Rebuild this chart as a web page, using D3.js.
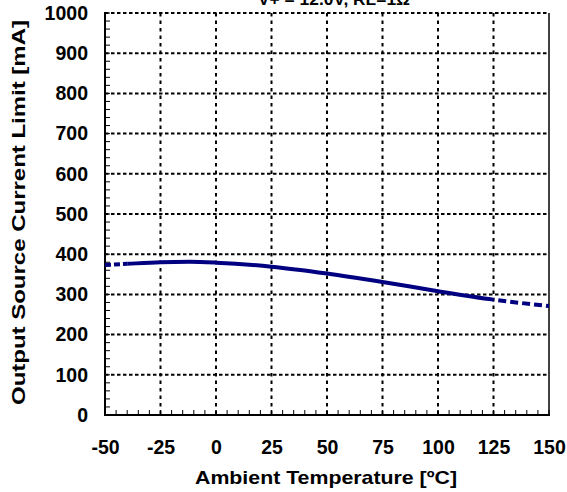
<!DOCTYPE html>
<html><head><meta charset="utf-8">
<script src="https://cdn.jsdelivr.net/npm/d3@7"></script>
<style>body{margin:0;background:#fff}svg{display:block}text{font-family:Arial,"Liberation Sans",sans-serif;font-weight:bold;fill:#000}</style>
</head><body><svg id="c" width="567" height="492"></svg>
<script>
const temps = [-50,-40,-25,-12,0,25,50,75,100,125,150];
const currents = [373,376,380,381,379,369,352,331,308,287,271];
const xTicks = [-50,-25,0,25,50,75,100,125,150];
const yTicks = [0,100,200,300,400,500,600,700,800,900,1000];
const solidRange = [-40,125];
const titleText = "V+ = 12.0V, RL=1Ω";
const xTitle = "Ambient Temperature [ºC]";
const yTitle = "Output Source Current  Limit [mA]";

const svg = d3.select("#c");
const L=105,R=549,T=13,B=415;
const x = d3.scaleLinear().domain([-50,150]).range([L,R]);
const y = d3.scaleLinear().domain([0,1000]).range([B,T]);
const FF = "Arial, 'Liberation Sans', sans-serif";

// title (clipped at top, as in the reference)
svg.append("text").attr("x",334).attr("y",5).attr("text-anchor","middle").attr("font-size",17)
 .attr("textLength",152).attr("lengthAdjust","spacingAndGlyphs").text(titleText);

// grid
const g = svg.append("g");
g.selectAll(".hg").data(yTicks.filter(v=>v>0)).enter().append("line")
 .attr("x1",L).attr("x2",R).attr("y1",d=>y(d)).attr("y2",d=>y(d))
 .attr("stroke","#000").attr("stroke-width",2).attr("stroke-dasharray","3.5,2.5");
g.selectAll(".vg").data(xTicks.filter(v=>v>-50&&v<150)).enter().append("line")
 .attr("y1",T).attr("y2",B).attr("x1",d=>x(d)).attr("x2",d=>x(d))
 .attr("stroke","#000").attr("stroke-width",2).attr("stroke-dasharray","3.5,4");

// minor ticks
const xMinor = d3.range(-50,151,5);
g.selectAll(".xm").data(xMinor).enter().append("line")
 .attr("x1",d=>x(d)).attr("x2",d=>x(d)).attr("y1",B).attr("y2",B-5).attr("stroke","#000").attr("stroke-width",1);
const yMinor = d3.range(0,1001,20);
g.selectAll(".ym").data(yMinor).enter().append("line")
 .attr("y1",d=>y(d)).attr("y2",d=>y(d)).attr("x1",L).attr("x2",L+5).attr("stroke","#000").attr("stroke-width",1);

// border
svg.append("line").attr("x1",R).attr("x2",R).attr("y1",T).attr("y2",B).attr("stroke","#000").attr("stroke-width",1.5);
svg.append("line").attr("x1",L).attr("x2",L).attr("y1",T-1).attr("y2",B+1).attr("stroke","#000").attr("stroke-width",2);
svg.append("line").attr("x1",L-1).attr("x2",R+1).attr("y1",B).attr("y2",B).attr("stroke","#000").attr("stroke-width",2);

// axes labels via d3 axes
const xAxis = svg.append("g").attr("transform",`translate(0,${B})`)
 .call(d3.axisBottom(x).tickValues(xTicks).tickSize(0).tickPadding(25).tickFormat(d=>String(d)));
xAxis.select(".domain").remove();
xAxis.selectAll("text").attr("font-size",19.5).style("font-family",FF).style("font-weight","bold");
const yAxis = svg.append("g").attr("transform",`translate(${L},0)`)
 .call(d3.axisLeft(y).tickValues(yTicks).tickSize(0).tickPadding(17).tickFormat(d=>String(d)));
yAxis.select(".domain").remove();
yAxis.selectAll("text").attr("font-size",19.5).style("font-family",FF).style("font-weight","bold");

svg.append("text").attr("x",326).attr("y",484).attr("text-anchor","middle").attr("font-size",19)
 .attr("textLength",262).attr("lengthAdjust","spacingAndGlyphs").text(xTitle);
svg.append("text").attr("transform","translate(25,212.5) rotate(-90)").attr("text-anchor","middle").attr("font-size",19)
 .attr("textLength",385).attr("lengthAdjust","spacingAndGlyphs").text(yTitle);

// curve
const defs = svg.append("defs");
const clips = [
 {id:"c1",a:-50,b:solidRange[0],dash:"6,3"},
 {id:"c2",a:solidRange[0],b:solidRange[1],dash:null},
 {id:"c3",a:solidRange[1],b:150,dash:"8,4"}
];
clips.forEach(c=>{
 defs.append("clipPath").attr("id",c.id).append("rect")
  .attr("x",x(c.a)).attr("width",x(c.b)-x(c.a)).attr("y",0).attr("height",492);
});
const line = d3.line().x((d,i)=>x(temps[i])).y(d=>y(d)).curve(d3.curveMonotoneX);
clips.forEach(c=>{
 const p = svg.append("path").datum(currents).attr("d",line).attr("fill","none")
  .attr("stroke","#000080").attr("stroke-width",4).attr("clip-path",`url(#${c.id})`);
 if(c.dash) p.attr("stroke-dasharray",c.dash);
});
</script></body></html>
